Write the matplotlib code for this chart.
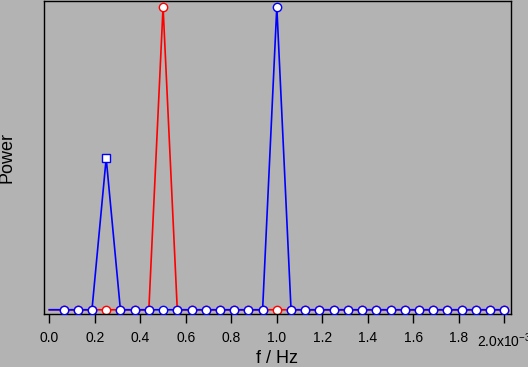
import numpy as np
import matplotlib
matplotlib.use('Agg')
import matplotlib.pyplot as plt

plt.rcParams['font.family'] = ['Liberation Sans', 'DejaVu Sans']
plt.rcParams['mathtext.fontset'] = 'custom'
plt.rcParams['mathtext.rm'] = 'Liberation Sans'
plt.rcParams['mathtext.it'] = 'Liberation Sans'

# frequency grid, in units of 1e-3 Hz
freq_milli = [0.0, 0.0625, 0.125, 0.1875, 0.25, 0.3125, 0.375, 0.4375, 0.5,
              0.5625, 0.625, 0.6875, 0.75, 0.8125, 0.875, 0.9375, 1.0,
              1.0625, 1.125, 1.1875, 1.25, 1.3125, 1.375, 1.4375, 1.5,
              1.5625, 1.625, 1.6875, 1.75, 1.8125, 1.875, 1.9375, 2.0]
blue_power = [0, 0, 0, 0, 0.5, 0, 0, 0, 0, 0, 0, 0, 0, 0, 0, 0, 1.0,
              0, 0, 0, 0, 0, 0, 0, 0, 0, 0, 0, 0, 0, 0, 0, 0]
red_power = [0, 0, 0, 0, 0, 0, 0, 0, 1.0, 0, 0, 0, 0, 0, 0, 0, 0,
             0, 0, 0, 0, 0, 0, 0, 0, 0, 0, 0, 0, 0, 0, 0, 0]
square_idx = 4  # blue point drawn as a square

tick_vals = [0.0, 0.2, 0.4, 0.6, 0.8, 1.0, 1.2, 1.4, 1.6, 1.8, 2.0]
tick_labels = ['0.0', '0.2', '0.4', '0.6', '0.8', '1.0', '1.2', '1.4',
               '1.6', '1.8', '2.0x10$^{-3}$']

freq = np.array(freq_milli) * 1e-3
bg = '#b3b3b3'

fig = plt.figure(figsize=(5.28, 3.67), dpi=100, facecolor=bg)
ax = fig.add_axes([44.3/528, (367-314.3)/367, (510.7-44.3)/528, (314.3-0.8)/367])
ax.set_facecolor(bg)

n = len(freq)
red_marks = [i for i in range(1, n)]
blue_marks = [i for i in range(1, n) if i != square_idx]

ax.plot(freq, red_power, color='red', lw=1.2, marker='o', ms=6,
        mfc='white', mec='red', mew=1, markevery=red_marks, zorder=2)
ax.plot(freq, blue_power, color='blue', lw=1.2, marker='o', ms=6,
        mfc='white', mec='blue', mew=1, markevery=blue_marks, zorder=3)
ax.plot(freq[square_idx], blue_power[square_idx], ls='none', marker='s',
        ms=6, mfc='white', mec='blue', mew=1, zorder=4)

ax.set_xlim(-0.022e-3, 2.028e-3)
ax.set_ylim(-0.015, 1.0197)

ax.set_xticks(np.array(tick_vals) * 1e-3)
ax.set_xticklabels(tick_labels)
ax.set_yticks([])
ax.tick_params(axis='x', direction='out', length=6.5, width=1,
               labelsize=10, pad=5.5, colors='black')

for s in ax.spines.values():
    s.set_linewidth(1)
    s.set_color('black')

ax.set_xlabel('f / Hz', fontsize=13)
ax.xaxis.set_label_coords(0.5, -0.115)
ax.set_ylabel('Power', fontsize=13)
ax.yaxis.set_label_coords(-0.062, 0.5)

fig.savefig('out.png', dpi=100, facecolor=bg)
